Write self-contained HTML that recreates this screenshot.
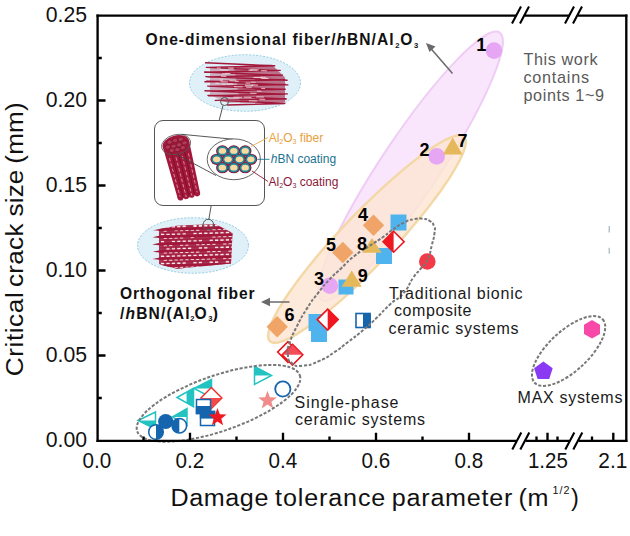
<!DOCTYPE html>
<html>
<head>
<meta charset="utf-8">
<title>Chart</title>
<style>
html,body{margin:0;padding:0;background:#fff;}
body{width:630px;height:536px;overflow:hidden;font-family:"Liberation Sans",sans-serif;}
svg{display:block;}
text{font-family:"Liberation Sans",sans-serif;}
</style>
</head>
<body>
<svg width="630" height="536" viewBox="0 0 630 536">
<rect x="0" y="0" width="630" height="536" fill="#ffffff"/>
<!-- shaded regions -->
<g id="regions">
  <ellipse cx="0" cy="0" rx="160.6" ry="29" transform="translate(410.5,166.2) rotate(-56.3)" fill="#f9e6fc" stroke="#efcdf5" stroke-width="2"/>
  <polygon points="464.1,136.7 465.0,138.1 465.6,139.9 465.8,142.1 465.5,144.7 464.8,147.8 463.7,151.2 462.2,155.0 460.2,159.2 457.9,163.7 455.2,168.5 452.1,173.6 448.7,179.1 444.9,184.7 440.8,190.7 436.3,196.8 431.6,203.1 426.6,209.6 421.3,216.1 415.8,222.8 410.1,229.6 404.2,236.4 398.2,243.2 392.0,250.0 385.7,256.8 379.4,263.4 372.9,270.0 366.5,276.4 360.1,282.7 353.6,288.8 347.3,294.7 341.0,300.3 334.8,305.7 328.8,310.8 322.9,315.5 317.3,320.0 311.8,324.1 306.6,327.8 301.6,331.1 296.9,334.1 292.5,336.6 288.4,338.7 284.6,340.4 281.2,341.7 278.2,342.5 275.5,342.8 273.3,342.8 271.4,342.2 269.9,341.3 268.9,339.9 268.3,338.1 268.1,335.8 268.4,333.1 269.0,330.1 270.1,326.6 271.6,322.8 273.5,318.6 275.8,314.1 278.5,309.2 281.6,304.1 285.1,298.7 288.9,293.0 293.0,287.1 297.5,281.0 302.2,274.7 307.3,268.3 312.6,261.7 318.1,255.1 323.8,248.4 329.8,241.6 335.9,234.8 342.1,228.1 348.4,221.4 354.8,214.7 361.3,208.2 367.8,201.8 374.3,195.6 380.7,189.5 387.1,183.7 393.4,178.1 399.6,172.8 405.7,167.7 411.5,162.9 417.2,158.5 422.7,154.4 427.9,150.7 432.9,147.3 437.6,144.3 441.9,141.8 446.0,139.6 449.7,137.9 453.1,136.6 456.0,135.7 458.6,135.3 460.9,135.3 462.7,135.8" fill="#fce5d3" fill-opacity="0.82" stroke="#f3d8a6" stroke-width="2.4" stroke-linejoin="round"/>
</g>
<!-- ===== inset illustration ===== -->
<g id="inset">
  <ellipse cx="245" cy="83" rx="55.5" ry="28.3" fill="#dff0f8" stroke="#7cc0d8" stroke-width="0.8" stroke-dasharray="2 1.5"/>
  <polygon points="210,67 272,64.5 285,77 285,102 228,103 210,95" fill="#a3173a" fill-opacity="0.3"/><polygon points="234,67 272,65 285,78 285,102 240,102.5" fill="#a3173a" fill-opacity="0.4"/>
  <path d="M205.6,62.8 L273.1,65.8 M209.8,67.5 L274.7,65.8 M206.4,67.4 L277.7,70.6 M204.7,72.3 L280.2,70.4 M204.6,72.0 L281.8,75.4 M207.7,77.0 L282.3,75.1 M206.0,76.6 L287.1,80.2 M204.9,81.7 L284.9,79.8 M206.7,81.3 L287.8,84.9 M209.5,86.4 L285.6,84.5 M207.9,86.1 L284.2,89.5 M207.5,91.1 L285.2,89.2 M205.0,90.7 L284.5,94.3 M208.6,95.8 L287.3,93.9 M208.0,95.4 L286.3,99.0 M215.3,100.4 L285.5,98.7 M220.6,100.5 L284.3,103.3 M227.5,105.0 L284.8,103.5" stroke="#a3173a" stroke-width="1.45" fill="none" stroke-linecap="round"/>
  <path d="M250.7,82.1 l4.9,0.15 M245.6,83.0 l4.8,0.15 M256.9,91.1 l4.5,0.15 M245.0,85.3 l8.3,0.15 M253.4,77.5 l8.9,0.15 M220.4,81.8 l7.5,0.15 M222.2,84.1 l3.2,0.15 M250.1,93.2 l6.4,0.15 M261.3,78.4 l7.2,0.15 M246.1,87.1 l5.7,0.15 M259.4,99.2 l5.8,0.15 M249.9,70.0 l7.2,0.15 M248.9,100.8 l7.9,0.15 M229.4,80.7 l7.0,0.15 M215.2,83.2 l4.0,0.15 M220.3,69.9 l7.6,0.15 M221.0,76.2 l5.3,0.15 M261.1,70.7 l5.7,0.15 M243.7,97.2 l7.9,0.15 M260.7,77.2 l5.5,0.15 M233.4,97.2 l8.7,0.15 M222.1,73.8 l4.4,0.15 M226.6,84.0 l6.5,0.15 M228.2,68.1 l5.5,0.15 M233.9,86.7 l8.7,0.15 M251.3,85.0 l6.7,0.15 M250.5,69.8 l8.4,0.15 M256.1,96.9 l7.8,0.15 M235.2,81.2 l3.6,0.15 M248.3,70.1 l3.4,0.15 M225.3,73.4 l5.0,0.15 M216.8,68.0 l3.9,0.15 M219.5,80.0 l3.2,0.15 M261.2,88.3 l3.9,0.15" stroke="#f6e6ea" stroke-width="0.8" fill="none"/>
  <ellipse cx="193" cy="245.5" rx="55.5" ry="27.8" fill="#dff0f8" stroke="#7cc0d8" stroke-width="0.8" stroke-dasharray="2 1.5"/>
  <clipPath id="clipBot"><polygon points="149,231 178,225.5 215,224 232.5,233 231,263.5 177,268.8 149,262"/></clipPath>
  <g clip-path="url(#clipBot)">
    <polygon points="159,226 233,222 233,266 175,270 159,264" fill="#a3173a" fill-opacity="0.88"/>
    <path d="M161.0,227.1 l3.2,-0.1 M166.4,226.9 l3.2,-0.1 M171.8,226.7 l3.2,-0.1 M177.2,226.6 l3.2,-0.1 M182.6,226.4 l3.2,-0.1 M193.4,226.1 l3.2,-0.1 M198.8,225.9 l3.2,-0.1 M204.2,225.8 l3.2,-0.1 M209.6,225.6 l3.2,-0.1 M215.0,225.4 l3.2,-0.1 M220.4,225.3 l3.2,-0.1 M225.8,225.1 l3.2,-0.1 M231.2,225.0 l3.2,-0.1 M163.7,230.6 l3.2,-0.1 M174.5,230.3 l3.2,-0.1 M179.9,230.2 l3.2,-0.1 M185.3,230.0 l3.2,-0.1 M190.7,229.8 l3.2,-0.1 M196.1,229.7 l3.2,-0.1 M206.9,229.3 l3.2,-0.1 M212.3,229.2 l3.2,-0.1 M217.7,229.0 l3.2,-0.1 M223.1,228.9 l3.2,-0.1 M228.5,228.7 l3.2,-0.1 M233.9,228.5 l3.2,-0.1 M161.0,234.4 l3.2,-0.1 M166.4,234.2 l3.2,-0.1 M171.8,234.0 l3.2,-0.1 M177.2,233.9 l3.2,-0.1 M182.6,233.7 l3.2,-0.1 M193.4,233.4 l3.2,-0.1 M198.8,233.2 l3.2,-0.1 M204.2,233.1 l3.2,-0.1 M209.6,232.9 l3.2,-0.1 M215.0,232.8 l3.2,-0.1 M220.4,232.6 l3.2,-0.1 M225.8,232.4 l3.2,-0.1 M231.2,232.3 l3.2,-0.1 M163.7,237.9 l3.2,-0.1 M169.1,237.8 l3.2,-0.1 M174.5,237.6 l3.2,-0.1 M179.9,237.5 l3.2,-0.1 M190.7,237.1 l3.2,-0.1 M212.3,236.5 l3.2,-0.1 M217.7,236.3 l3.2,-0.1 M223.1,236.2 l3.2,-0.1 M228.5,236.0 l3.2,-0.1 M233.9,235.8 l3.2,-0.1 M161.0,241.7 l3.2,-0.1 M171.8,241.3 l3.2,-0.1 M177.2,241.2 l3.2,-0.1 M182.6,241.0 l3.2,-0.1 M188.0,240.9 l3.2,-0.1 M193.4,240.7 l3.2,-0.1 M198.8,240.5 l3.2,-0.1 M209.6,240.2 l3.2,-0.1 M215.0,240.0 l3.2,-0.1 M220.4,239.9 l3.2,-0.1 M225.8,239.7 l3.2,-0.1 M231.2,239.6 l3.2,-0.1 M163.7,245.2 l3.2,-0.1 M169.1,245.1 l3.2,-0.1 M179.9,244.8 l3.2,-0.1 M185.3,244.6 l3.2,-0.1 M196.1,244.3 l3.2,-0.1 M201.5,244.1 l3.2,-0.1 M206.9,243.9 l3.2,-0.1 M212.3,243.8 l3.2,-0.1 M223.1,243.5 l3.2,-0.1 M228.5,243.3 l3.2,-0.1 M233.9,243.1 l3.2,-0.1 M166.4,248.8 l3.2,-0.1 M171.8,248.6 l3.2,-0.1 M177.2,248.5 l3.2,-0.1 M182.6,248.3 l3.2,-0.1 M188.0,248.2 l3.2,-0.1 M198.8,247.8 l3.2,-0.1 M204.2,247.7 l3.2,-0.1 M215.0,247.3 l3.2,-0.1 M220.4,247.2 l3.2,-0.1 M225.8,247.0 l3.2,-0.1 M231.2,246.9 l3.2,-0.1 M163.7,252.5 l3.2,-0.1 M169.1,252.4 l3.2,-0.1 M174.5,252.2 l3.2,-0.1 M179.9,252.1 l3.2,-0.1 M185.3,251.9 l3.2,-0.1 M190.7,251.7 l3.2,-0.1 M196.1,251.6 l3.2,-0.1 M206.9,251.2 l3.2,-0.1 M212.3,251.1 l3.2,-0.1 M217.7,250.9 l3.2,-0.1 M228.5,250.6 l3.2,-0.1 M161.0,256.3 l3.2,-0.1 M166.4,256.1 l3.2,-0.1 M171.8,255.9 l3.2,-0.1 M177.2,255.8 l3.2,-0.1 M182.6,255.6 l3.2,-0.1 M188.0,255.5 l3.2,-0.1 M193.4,255.3 l3.2,-0.1 M198.8,255.1 l3.2,-0.1 M204.2,255.0 l3.2,-0.1 M209.6,254.8 l3.2,-0.1 M215.0,254.6 l3.2,-0.1 M220.4,254.5 l3.2,-0.1 M225.8,254.3 l3.2,-0.1 M231.2,254.2 l3.2,-0.1 M163.7,259.8 l3.2,-0.1 M169.1,259.7 l3.2,-0.1 M174.5,259.5 l3.2,-0.1 M179.9,259.4 l3.2,-0.1 M185.3,259.2 l3.2,-0.1 M190.7,259.0 l3.2,-0.1 M196.1,258.9 l3.2,-0.1 M201.5,258.7 l3.2,-0.1 M206.9,258.5 l3.2,-0.1 M212.3,258.4 l3.2,-0.1 M223.1,258.1 l3.2,-0.1 M228.5,257.9 l3.2,-0.1 M233.9,257.7 l3.2,-0.1 M161.0,263.6 l3.2,-0.1 M166.4,263.4 l3.2,-0.1 M171.8,263.2 l3.2,-0.1 M177.2,263.1 l3.2,-0.1 M182.6,262.9 l3.2,-0.1 M193.4,262.6 l3.2,-0.1 M198.8,262.4 l3.2,-0.1 M209.6,262.1 l3.2,-0.1 M215.0,261.9 l3.2,-0.1 M225.8,261.6 l3.2,-0.1 M231.2,261.5 l3.2,-0.1 M163.7,267.1 l3.2,-0.1 M169.1,267.0 l3.2,-0.1 M174.5,266.8 l3.2,-0.1 M179.9,266.7 l3.2,-0.1 M185.3,266.5 l3.2,-0.1 M190.7,266.3 l3.2,-0.1 M196.1,266.2 l3.2,-0.1 M206.9,265.8 l3.2,-0.1 M212.3,265.7 l3.2,-0.1 M217.7,265.5 l3.2,-0.1 M223.1,265.4 l3.2,-0.1 M161.0,270.9 l3.2,-0.1 M171.8,270.5 l3.2,-0.1 M177.2,270.4 l3.2,-0.1 M188.0,270.1 l3.2,-0.1 M193.4,269.9 l3.2,-0.1 M198.8,269.7 l3.2,-0.1 M204.2,269.6 l3.2,-0.1 M209.6,269.4 l3.2,-0.1 M215.0,269.2 l3.2,-0.1 M220.4,269.1 l3.2,-0.1 M225.8,268.9 l3.2,-0.1 M231.2,268.8 l3.2,-0.1" stroke="#f7e8ec" stroke-width="2.1" fill="none"/>
    <polygon points="151.9,229.9 161,228.0 233,226.1 233,228.7 161,230.9" fill="#a3173a"/><polygon points="158.3,233.3 165,232.1 233,230.3 233,231.7 165,233.9" fill="#a3173a" fill-opacity="0.75"/><polygon points="152.5,237.2 161,235.3 233,233.4 233,236.0 161,238.2" fill="#a3173a"/><polygon points="158.0,240.6 165,239.4 233,237.6 233,239.0 165,241.2" fill="#a3173a" fill-opacity="0.75"/><polygon points="152.1,244.5 161,242.6 233,240.7 233,243.3 161,245.5" fill="#a3173a"/><polygon points="158.5,247.9 165,246.7 233,244.9 233,246.3 165,248.5" fill="#a3173a" fill-opacity="0.75"/><polygon points="152.7,251.8 161,249.9 233,248.0 233,250.6 161,252.8" fill="#a3173a"/><polygon points="160.0,255.2 165,254.0 233,252.2 233,253.6 165,255.8" fill="#a3173a" fill-opacity="0.75"/><polygon points="152.5,259.1 161,257.2 233,255.3 233,257.9 161,260.1" fill="#a3173a"/><polygon points="159.9,262.5 165,261.3 233,259.5 233,260.9 165,263.1" fill="#a3173a" fill-opacity="0.75"/><polygon points="152.8,266.4 161,264.5 233,262.6 233,265.2 161,267.4" fill="#a3173a"/><polygon points="157.8,269.8 165,268.6 233,266.8 233,268.2 165,270.4" fill="#a3173a" fill-opacity="0.75"/>
  </g>
  <g stroke="#555" stroke-width="1" fill="none">
    <circle cx="224.5" cy="101.5" r="4"/><path d="M223,105.5 L219,121"/>
    <circle cx="208.3" cy="224.5" r="5.2"/><path d="M208.8,219.5 L211.3,205"/>
  </g>
  <rect x="154.5" y="120.5" width="110" height="85" rx="8.5" ry="8.5" fill="#fff" stroke="#555" stroke-width="1"/>
  <g transform="translate(176,144) rotate(-14)">
    <path d="M-13.5,0 L-11.5,53 L11.5,53 L13.5,0 Z" fill="#a3173a"/>
    <circle cx="-8.6" cy="53" r="3" fill="#a3173a"/>
    <circle cx="-2.9" cy="53" r="3" fill="#a3173a"/>
    <circle cx="2.9" cy="53" r="3" fill="#a3173a"/>
    <circle cx="8.6" cy="53" r="3" fill="#a3173a"/>
    <path d="M-6.5,8 L-5.8,54 M0,10 V55 M6.5,8 L5.8,54" stroke="#7b0e2a" stroke-width="0.9"/>
    <path d="M-9.8,12 L-8.8,52 M-3.2,13 L-2.9,54 M3.2,13 L2.9,54 M9.8,12 L8.8,52" stroke="#e5a9b6" stroke-width="0.7" stroke-dasharray="3.5 2"/>
    <ellipse cx="0" cy="0" rx="13.6" ry="8.6" fill="#a3173a"/>
    <ellipse cx="-8.6" cy="1" rx="2.7" ry="2.1" fill="#b23a57" stroke="#74102a" stroke-width="0.6"/>
    <ellipse cx="-2.9" cy="1.6" rx="2.7" ry="2.1" fill="#b23a57" stroke="#74102a" stroke-width="0.6"/>
    <ellipse cx="2.9" cy="1.6" rx="2.7" ry="2.1" fill="#b23a57" stroke="#74102a" stroke-width="0.6"/>
    <ellipse cx="8.6" cy="1" rx="2.7" ry="2.1" fill="#b23a57" stroke="#74102a" stroke-width="0.6"/>
    <ellipse cx="-5.7" cy="-3.4" rx="2.7" ry="2.1" fill="#b23a57" stroke="#74102a" stroke-width="0.6"/>
    <ellipse cx="0" cy="-3.8" rx="2.7" ry="2.1" fill="#b23a57" stroke="#74102a" stroke-width="0.6"/>
    <ellipse cx="5.7" cy="-3.4" rx="2.7" ry="2.1" fill="#b23a57" stroke="#74102a" stroke-width="0.6"/>
    <ellipse cx="-5.7" cy="5.2" rx="2.7" ry="2.1" fill="#b23a57" stroke="#74102a" stroke-width="0.6"/>
    <ellipse cx="0" cy="5.8" rx="2.7" ry="2.1" fill="#b23a57" stroke="#74102a" stroke-width="0.6"/>
    <ellipse cx="5.7" cy="5.2" rx="2.7" ry="2.1" fill="#b23a57" stroke="#74102a" stroke-width="0.6"/>
    <ellipse cx="0" cy="0.5" rx="14.8" ry="9.8" fill="none" stroke="#555" stroke-width="0.8"/>
  </g>
  <path d="M181.5,134.3 L233.8,139.3 M176.5,154.3 L216,175.5" stroke="#444" stroke-width="0.9" fill="none"/>
  <ellipse cx="233.8" cy="159.3" rx="26.6" ry="20.4" fill="#fff" stroke="#555" stroke-width="0.9"/>
  <ellipse cx="222.4" cy="150.9" rx="6.3" ry="5.6" fill="#8c1535"/>
  <ellipse cx="233.8" cy="150.9" rx="6.3" ry="5.6" fill="#8c1535"/>
  <ellipse cx="245.2" cy="150.9" rx="6.3" ry="5.6" fill="#8c1535"/>
  <ellipse cx="216.7" cy="159.3" rx="6.3" ry="5.6" fill="#8c1535"/>
  <ellipse cx="228.1" cy="159.3" rx="6.3" ry="5.6" fill="#8c1535"/>
  <ellipse cx="239.5" cy="159.3" rx="6.3" ry="5.6" fill="#8c1535"/>
  <ellipse cx="250.9" cy="159.3" rx="6.3" ry="5.6" fill="#8c1535"/>
  <ellipse cx="222.4" cy="167.7" rx="6.3" ry="5.6" fill="#8c1535"/>
  <ellipse cx="233.8" cy="167.7" rx="6.3" ry="5.6" fill="#8c1535"/>
  <ellipse cx="245.2" cy="167.7" rx="6.3" ry="5.6" fill="#8c1535"/>
  <ellipse cx="222.4" cy="150.9" rx="5.3" ry="4.7" fill="#1f8a9c"/><ellipse cx="222.4" cy="150.9" rx="3.7" ry="2.9" fill="#f9d9a0"/>
  <ellipse cx="233.8" cy="150.9" rx="5.3" ry="4.7" fill="#1f8a9c"/><ellipse cx="233.8" cy="150.9" rx="3.7" ry="2.9" fill="#f9d9a0"/>
  <ellipse cx="245.2" cy="150.9" rx="5.3" ry="4.7" fill="#1f8a9c"/><ellipse cx="245.2" cy="150.9" rx="3.7" ry="2.9" fill="#f9d9a0"/>
  <ellipse cx="216.7" cy="159.3" rx="5.3" ry="4.7" fill="#1f8a9c"/><ellipse cx="216.7" cy="159.3" rx="3.7" ry="2.9" fill="#f9d9a0"/>
  <ellipse cx="228.1" cy="159.3" rx="5.3" ry="4.7" fill="#1f8a9c"/><ellipse cx="228.1" cy="159.3" rx="3.7" ry="2.9" fill="#f9d9a0"/>
  <ellipse cx="239.5" cy="159.3" rx="5.3" ry="4.7" fill="#1f8a9c"/><ellipse cx="239.5" cy="159.3" rx="3.7" ry="2.9" fill="#f9d9a0"/>
  <ellipse cx="250.9" cy="159.3" rx="5.3" ry="4.7" fill="#1f8a9c"/><ellipse cx="250.9" cy="159.3" rx="3.7" ry="2.9" fill="#f9d9a0"/>
  <ellipse cx="222.4" cy="167.7" rx="5.3" ry="4.7" fill="#1f8a9c"/><ellipse cx="222.4" cy="167.7" rx="3.7" ry="2.9" fill="#f9d9a0"/>
  <ellipse cx="233.8" cy="167.7" rx="5.3" ry="4.7" fill="#1f8a9c"/><ellipse cx="233.8" cy="167.7" rx="3.7" ry="2.9" fill="#f9d9a0"/>
  <ellipse cx="245.2" cy="167.7" rx="5.3" ry="4.7" fill="#1f8a9c"/><ellipse cx="245.2" cy="167.7" rx="3.7" ry="2.9" fill="#f9d9a0"/>
  <path d="M251,146.5 L268,137.5" stroke="#e9a548" stroke-width="0.9"/>
  <path d="M257.5,159.3 L269.5,159.3" stroke="#1b7a94" stroke-width="0.9"/>
  <path d="M252,171 L268,181.5" stroke="#8a1838" stroke-width="0.9"/>
  <g font-size="12">
    <text x="268.7" y="142" fill="#e9a040">Al<tspan font-size="7" dy="2">2</tspan><tspan dy="-2">O</tspan><tspan font-size="7" dy="2">3</tspan><tspan dy="-2"> fiber</tspan></text>
    <text x="270.7" y="163" fill="#1b7390"><tspan font-style="italic">h</tspan>BN coating</text>
    <text x="268.5" y="185.5" fill="#8a1838">Al<tspan font-size="7" dy="2">2</tspan><tspan dy="-2">O</tspan><tspan font-size="7" dy="2">3</tspan><tspan dy="-2"> coating</tspan></text>
  </g>
</g>
<!-- ===== data markers ===== -->
<g id="markers">
  <rect x="390.5" y="214.5" width="16" height="16" fill="#4fb4ee"/>
  <rect x="376.0" y="248.0" width="16" height="16" fill="#4fb4ee"/>
  <rect x="338.5" y="279.5" width="15" height="15" fill="#4fb4ee"/>
  <rect x="308.5" y="314.0" width="17" height="17" fill="#4fb4ee"/>
  <rect x="311.0" y="326.0" width="16" height="16" fill="#4fb4ee"/>
  <circle cx="494" cy="50.6" r="8.3" fill="#e6a6f3"/>
  <circle cx="436.7" cy="156.4" r="8.3" fill="#e6a6f3"/>
  <circle cx="329.8" cy="285.7" r="8.3" fill="#e6a6f3"/>
  <polygon points="373.5,214.60000000000002 384.2,225.3 373.5,236.0 362.8,225.3" fill="#f0a468"/>
  <polygon points="342.8,241.8 353.5,252.5 342.8,263.2 332.1,252.5" fill="#f0a468"/>
  <polygon points="277.2,316.1 287.9,326.8 277.2,337.5 266.5,326.8" fill="#f0a468"/>
  <polygon points="452.7,137.4 462.5,154.4 442.9,154.4" fill="#e6b85c"/>
  <polygon points="372,238.0 381.6,252.8 362.4,252.8" fill="#e6b85c"/>
  <polygon points="351.7,270.4 361.7,286.8 341.7,286.8" fill="#e6b85c"/>
  <circle cx="427.3" cy="261.5" r="8.3" fill="#f23a48"/>
  <polygon points="393.6,231.2 404.1,241.7 393.6,252.2 383.1,241.7" fill="#fff" stroke="#e8141c" stroke-width="1.6"/><polygon points="393.6,231.2 383.1,241.7 393.6,252.2" fill="#f01820"/>
  <polygon points="327.7,309.1 338.2,319.6 327.7,330.1 317.2,319.6" fill="#fff" stroke="#e8141c" stroke-width="1.6"/><polygon points="327.7,309.1 338.2,319.6 327.7,330.1" fill="#f01820"/>
  <polygon points="288,341.7 298.3,352 288,362.3 277.7,352" fill="#fff" stroke="#e8141c" stroke-width="1.6"/>
  <polygon points="292.5,344.4 302.8,354.7 292.5,365.0 282.2,354.7" fill="#fff" stroke="#e8141c" stroke-width="1.6"/><polygon points="292.5,344.4 302.8,354.7 282.2,354.7" fill="#f23a48" fill-opacity="0.9"/>
  <rect x="356" y="313.5" width="14" height="14" fill="#fff" stroke="#1565ae" stroke-width="1.6"/><rect x="363" y="313.5" width="7.8" height="14" fill="#1565ae"/>
  <polygon points="592.0,320.1 600.0,324.7 600.0,333.9 592.0,338.5 584.0,333.9 584.0,324.7" fill="#f848a8"/>
  <polygon points="543.4,361.4 552.7,368.2 549.2,379.1 537.6,379.1 534.1,368.2" fill="#8a3af2"/>
  <polygon points="138,420.5 155.5,412.0 155.5,429.0" fill="#fff" stroke="#22c3c0" stroke-width="1.5"/><polygon points="138,420.5 155.5,420.5 155.5,429.0" fill="#22c3c0"/>
  <polygon points="172.5,417 187.0,408.5 187.0,425.5" fill="#fff" stroke="#22c3c0" stroke-width="1.5"/><polygon points="172.5,417 187.0,417 187.0,408.5" fill="#22c3c0"/>
  <polygon points="177,397.5 193.5,388.25 193.5,406.75" fill="#fff" stroke="#22c3c0" stroke-width="1.5"/><polygon points="186.57,392.135 193.5,388.25 193.5,406.75 186.57,402.865" fill="#22c3c0"/>
  <polygon points="194,388.5 211.5,379.5 211.5,397.5" fill="#fff" stroke="#22c3c0" stroke-width="1.5"/><polygon points="194,388.5 211.5,388.5 211.5,379.5" fill="#22c3c0"/>
  <polygon points="254.5,366.5 271.5,375.5 254.5,384.5" fill="#fff" stroke="#22c3c0" stroke-width="1.5"/><polygon points="254.5,366.5 271.5,375.5 254.5,375.5" fill="#22c3c0"/>
  <circle cx="165.7" cy="421.5" r="7.6" fill="#1565ae"/>
  <circle cx="179.3" cy="425.7" r="7.3" fill="#fff" stroke="#1565ae" stroke-width="1.5"/><path d="M179.3,418.4 A7.3,7.3 0 0 0 179.3,433 Z" fill="#1565ae"/>
  <circle cx="156" cy="432" r="7.3" fill="#fff" stroke="#1565ae" stroke-width="1.5"/><path d="M156,424.7 A7.3,7.3 0 0 1 156,439.3 Z" fill="#1565ae"/>
  <circle cx="282.8" cy="389" r="7.6" fill="#fff" stroke="#1565ae" stroke-width="1.8"/>
  <polygon points="211.4,387.5 221.9,398 211.4,408.5 200.9,398" fill="#fff" stroke="#ee3030" stroke-width="1.5"/><polygon points="200.9,398 221.9,398 211.4,408.5" fill="#f24a4a"/>
  <rect x="196.5" y="399.5" width="14" height="14" fill="#fff" stroke="#1565ae" stroke-width="1.5"/><rect x="195.8" y="406" width="15.4" height="8.2" fill="#1565ae"/>
  <rect x="200.5" y="411.5" width="14" height="14" fill="#fff" stroke="#1565ae" stroke-width="1.5"/><rect x="199.8" y="410.8" width="15.4" height="7.8" fill="#1565ae"/>
  <polygon points="217.5,408.0 219.8,414.3 226.5,414.6 221.3,418.7 223.1,425.2 217.5,421.5 211.9,425.2 213.7,418.7 208.5,414.6 215.2,414.3" fill="#f01822"/>
  <polygon points="267.5,390.7 269.9,397.2 276.8,397.5 271.4,401.8 273.3,408.4 267.5,404.6 261.7,408.4 263.6,401.8 258.2,397.5 265.1,397.2" fill="#f08c8c"/>
</g>
<!-- dashed group outlines -->
<g id="dashed" fill="none" stroke="#777" stroke-width="2" stroke-dasharray="3.1 1.7">
  <path d="M287.8,353.5 C287.1,346.4 287.0,350.9 290.0,342.0 C293.0,333.1 291.1,337.7 296.7,326.7 C302.3,315.7 299.7,320.0 306.7,308.9 C313.7,297.8 310.2,303.1 317.8,293.3 C325.4,283.5 321.8,287.8 329.5,279.5 C337.2,271.2 332.5,276.5 341.0,268.5 C349.5,260.5 345.3,263.1 355.0,255.5 C364.7,247.9 360.8,251.7 370.0,245.6 C379.2,239.5 375.4,242.4 382.7,237.3 C390.0,232.2 384.8,235.2 392.0,230.2 C399.2,225.2 396.7,226.1 404.3,222.4 C411.9,218.7 408.8,220.3 414.8,219.1 C420.8,217.9 417.2,218.1 422.2,218.7 C427.2,219.3 425.8,218.4 429.7,220.9 C433.6,223.4 432.3,222.1 433.9,226.1 C435.5,230.1 435.2,226.6 434.5,232.8 C433.8,239.0 434.2,235.8 431.9,244.8 C429.6,253.8 431.2,251.7 427.5,259.7 C423.8,267.7 425.4,262.7 420.7,268.7 C416.0,274.7 419.1,269.4 413.3,277.6 C407.5,285.8 411.1,284.4 403.3,293.3 C395.5,302.2 398.9,296.2 390.0,304.4 C381.1,312.6 385.6,309.3 376.7,317.8 C367.8,326.3 372.9,321.9 363.3,330.0 C353.7,338.1 357.4,334.8 347.8,342.2 C338.2,349.6 344.0,345.9 334.4,352.2 C324.8,358.5 329.3,356.6 318.9,361.1 C308.5,365.6 312.2,364.9 303.3,365.6 C294.4,366.3 297.4,367.3 292.2,363.3 C287.0,359.3 288.5,360.6 287.8,353.5 Z"/>
  <ellipse cx="0" cy="0" rx="86" ry="27.8" transform="translate(218.5,403.3) rotate(-19)"/>
  <ellipse cx="0" cy="0" rx="46.5" ry="20" transform="translate(568.6,351) rotate(-43)"/>
</g>
<g id="numlabels" font-size="18" font-weight="bold" fill="#000" text-anchor="middle">
  <text x="481.3" y="50.8">1</text>
  <text x="424.5" y="155.8">2</text>
  <text x="462.6" y="146.7">7</text>
  <text x="362.9" y="221.1">4</text>
  <text x="331.1" y="251.4">5</text>
  <text x="362" y="249.8">8</text>
  <text x="319.1" y="284.6">3</text>
  <text x="362.7" y="282.1">9</text>
  <text x="289.4" y="320.5">6</text>
</g>
<g id="arrows" stroke="#6a6a6a" stroke-width="1.5" fill="#6a6a6a">
  <path d="M452.5,73.5 L430,47.5" fill="none"/>
  <polygon points="426,43 435.5,46.5 429.5,52" stroke="none"/>
  <path d="M289.5,302 L268,302" fill="none"/>
  <polygon points="261,302 270,297.8 270,306.2" stroke="none"/>
</g>
<g id="annots" fill="#222">
  <g font-size="15.6" font-weight="bold" fill="#111">
    <text x="145.5" y="44.8" textLength="248" lengthAdjust="spacing">One-dimensional fiber/<tspan font-style="italic">h</tspan>BN/Al</text>
    <text x="395.2" y="47.6" font-size="7.6">2</text>
    <text x="400.2" y="44.8">O</text>
    <text x="414" y="47.6" font-size="7.6">3</text>
    <text x="120" y="299.3" textLength="134.5" lengthAdjust="spacing">Orthogonal fiber</text>
    <text x="120" y="318.6" textLength="69.5" lengthAdjust="spacing">/<tspan font-style="italic">h</tspan>BN/(Al</text>
    <text x="190.2" y="321.4" font-size="7.6">2</text>
    <text x="194.6" y="318.6">O</text>
    <text x="208.2" y="321.4" font-size="7.6">3</text>
    <text x="212.8" y="318.6">)</text>
  </g>
  <g font-size="16.2" fill="#5a5a5a">
    <text x="523.5" y="65.4" textLength="74" lengthAdjust="spacing">This work</text>
    <text x="523.5" y="83.2" textLength="65.5" lengthAdjust="spacing">contains</text>
    <text x="523.5" y="101" textLength="80.5" lengthAdjust="spacing">points 1~9</text>
  </g>
  <g font-size="16" fill="#1a1a1a">
    <text x="389" y="298.8" textLength="133.5" lengthAdjust="spacing">Traditional bionic</text>
    <text x="394" y="316" textLength="77.5" lengthAdjust="spacing">composite</text>
    <text x="388.5" y="333.6" textLength="130" lengthAdjust="spacing">ceramic systems</text>
    <text x="294.5" y="407.5" textLength="104" lengthAdjust="spacing">Single-phase</text>
    <text x="295" y="424.8" textLength="130" lengthAdjust="spacing">ceramic systems</text>
    <text x="517.6" y="402.5" textLength="104.8" lengthAdjust="spacing">MAX systems</text>
  </g>
</g>
<!-- axes frame -->
<g id="axes" stroke="#000" stroke-width="2.35" fill="none" stroke-linecap="butt">
  <path d="M97.6,14.5 V442"/>
  <path d="M626.3,14.5 V442"/>
  <path d="M96.5,15.6 H627.4"/>
  <path d="M96.5,440.9 H627.4"/>
  <path d="M97,100.5 h8.5 M97,185.5 h8.5 M97,270.5 h8.5 M97,355.5 h8.5"/>
  <path d="M97,58 h4.8 M97,143 h4.8 M97,228 h4.8 M97,313 h4.8 M97,398 h4.8"/>
  <path d="M190,441 v-8.2 M283,441 v-8.2 M376,441 v-8.2 M469,441 v-8.2 M547.5,441 v-8.2 M613.3,441 v-8.2"/>
  <path d="M143.5,441 v-4.6 M236.5,441 v-4.6 M329.5,441 v-4.6 M422.5,441 v-4.6 M536.5,441 v-4.6 M557.5,441 v-4.6 M592,441 v-4.6"/>
</g>
<g id="breaks">
  <g stroke="#fff" stroke-width="4.4" fill="none">
    <path d="M516,15.6 H525 M569,15.6 H578 M516.5,440.9 H525.5 M569.5,440.9 H578.5"/>
  </g>
  <g stroke="#000" stroke-width="2.1" fill="none">
    <path d="M512,23.5 L521,6.5 M520,23.5 L529,6.5 M565,23.5 L574,6.5 M573,23.5 L582,6.5"/>
    <path d="M512.3,449.5 L521.3,432.5 M520.3,449.5 L529.3,432.5 M565.3,449.5 L574.3,432.5 M573.3,449.5 L582.3,432.5"/>
  </g>
</g>
<g id="ticklabels" font-size="22" fill="#111">
  <text x="45.8" y="22.1" textLength="41.3" lengthAdjust="spacingAndGlyphs">0.25</text>
  <text x="45.8" y="107.1" textLength="41.3" lengthAdjust="spacingAndGlyphs">0.20</text>
  <text x="45.8" y="192.1" textLength="41.3" lengthAdjust="spacingAndGlyphs">0.15</text>
  <text x="45.8" y="277.1" textLength="41.3" lengthAdjust="spacingAndGlyphs">0.10</text>
  <text x="45.8" y="362.1" textLength="41.3" lengthAdjust="spacingAndGlyphs">0.05</text>
  <text x="45.8" y="447.1" textLength="41.3" lengthAdjust="spacingAndGlyphs">0.00</text>
  <text x="82.5" y="467.8" textLength="28.7" lengthAdjust="spacingAndGlyphs">0.0</text>
  <text x="175.5" y="467.8" textLength="28.7" lengthAdjust="spacingAndGlyphs">0.2</text>
  <text x="268.5" y="467.8" textLength="28.7" lengthAdjust="spacingAndGlyphs">0.4</text>
  <text x="361.5" y="467.8" textLength="28.7" lengthAdjust="spacingAndGlyphs">0.6</text>
  <text x="454.5" y="467.8" textLength="28.7" lengthAdjust="spacingAndGlyphs">0.8</text>
  <text x="528" y="467.8" textLength="39.8" lengthAdjust="spacingAndGlyphs">1.25</text>
  <text x="598.3" y="467.8" textLength="29" lengthAdjust="spacingAndGlyphs">2.1</text>
</g>
<g id="titles" fill="#111">
  <g transform="scale(1.06,1)" font-size="23.7"><text x="160.75" y="505.6" textLength="92.45" lengthAdjust="spacing">Damage</text><text x="259.53" y="505.6" textLength="103.96" lengthAdjust="spacing">tolerance</text><text x="369.62" y="505.6" textLength="113.77" lengthAdjust="spacing">parameter</text><text x="489.25" y="505.6" textLength="28.11" lengthAdjust="spacing">(m</text></g>
  <text x="552.5" y="494" font-size="10.8" textLength="17" lengthAdjust="spacing">1/2</text>
  <text x="571" y="505.5" font-size="23.5">)</text>
  <g transform="translate(22.7,0) rotate(-90) scale(1.09,1)" font-size="24">
    <text x="-345.14" y="0" textLength="76.97" lengthAdjust="spacing">Critical</text>
    <text x="-263.30" y="0" textLength="58.26" lengthAdjust="spacing">crack</text>
    <text x="-198.53" y="0" textLength="42.94" lengthAdjust="spacing">size</text>
    <text x="-150.18" y="0" textLength="56.33" lengthAdjust="spacing">(mm)</text>
  </g>
</g>
<path d="M609.2,226 V232.5 M609.2,247.8 V253.7" stroke="#93a2ae" stroke-width="1" fill="none"/>
</svg>
</body>
</html>
